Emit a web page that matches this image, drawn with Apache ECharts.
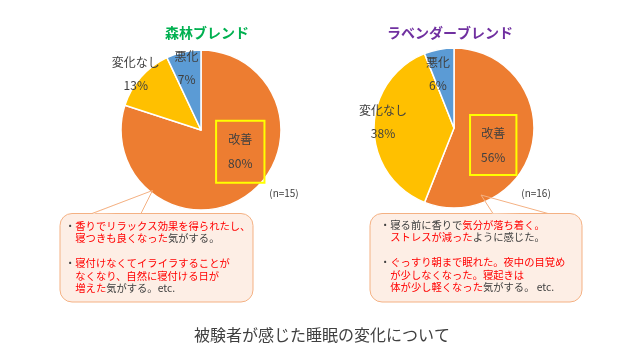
<!DOCTYPE html>
<html>
<head>
<meta charset="utf-8">
<script src="https://cdn.jsdelivr.net/npm/echarts@6/dist/echarts.min.js"></script>
<style>
  html, body { margin: 0; padding: 0; background: #fff; }
  #chart { width: 640px; height: 354px; }
</style>
</head>
<body>
<div id="chart"></div>
<script>
// データ
const categories = ['改善', '変化なし', '悪化']
const forestValues = [80, 13, 7]      // 森林ブレンド (n=15)
const lavenderValues = [56, 38, 6]    // ラベンダーブレンド (n=16)
const sliceColors = ['#ED7D31', '#FFC000', '#5B9BD5']

const titles = ['森林ブレンド', 'ラベンダーブレンド']
const sampleLabels = ['(n=15)', '(n=16)']
const caption = '被験者が感じた睡眠の変化について'

// コメント: [テキスト, 赤字かどうか]
const forestComments = [
  [['・', 0], ['香りでリラックス効果を得られたし、', 1]],
  [['　', 0], ['寝つきも良くなった', 1], ['気がする。', 0]],
  [],
  [['・', 0], ['寝付けなくてイライラすることが', 1]],
  [['　', 0], ['なくなり、自然に寝付ける日が', 1]],
  [['　', 0], ['増えた', 1], ['気がする。etc.', 0]]
]
const lavenderComments = [
  [['・', 0], ['寝る前に香りで', 0], ['気分が落ち着く。', 1]],
  [['　', 0], ['ストレスが減った', 1], ['ように感じた。', 0]],
  [],
  [['・', 0], ['ぐっすり朝まで眠れた。夜中の目覚め', 1]],
  [['　', 0], ['が少しなくなった。寝起きは', 1]],
  [['　', 0], ['体が少し軽くなった', 1], ['気がする。 etc.', 0]]
]

const FONT = '"Noto Sans CJK JP", "Noto Sans", sans-serif'
const GRAY = '#404040'
const RED = '#FF0000'

const chart = echarts.init(document.getElementById('chart'), null, { renderer: 'canvas' })

// ラベル位置の微調整
const labelOffsets = [
  [[14, -13], [-33, -28], [-5, -20]],
  [[-3, 9], [-28, -6], [-8, -12]]
]
const boxPadding = [[7, 12], [6, 11]]

function pieSeries(idx, values, center) {
  return {
    type: 'pie',
    center: center,
    radius: 80,
    startAngle: 90,
    clockwise: true,
    animation: false,
    silent: true,
    itemStyle: { borderColor: '#fff', borderWidth: 1.5 },
    label: {
      show: true,
      position: 'inside',
      formatter: '{b}\n{c}%',
      color: GRAY,
      fontSize: 12,
      lineHeight: 23,
      fontFamily: FONT
    },
    labelLine: { show: false },
    labelLayout: function (p) {
      const o = labelOffsets[idx][p.dataIndex]
      return { dx: o[0], dy: o[1] }
    },
    data: categories.map((name, i) => ({
      name: name,
      value: values[i],
      itemStyle: { color: sliceColors[i] },
      label: i === 0 ? {
        borderColor: '#FFFF00',
        borderWidth: 2,
        padding: boxPadding[idx],
        lineHeight: 24
      } : {}
    }))
  }
}

function callout(rect, pointer, lines, textX, textY) {
  const fill = '#FDEEE5'
  const stroke = '#F4B183'
  const els = [
    {
      type: 'rect', z: 10,
      shape: { x: rect[0], y: rect[1], width: rect[2], height: rect[3], r: 12 },
      style: { fill: fill, stroke: stroke, lineWidth: 1 }
    },
    {
      type: 'polygon', z: 11,
      shape: { points: [pointer[0], pointer[1], [pointer[2][0], pointer[2][1] + 1], [pointer[1][0], pointer[1][1] + 1]].map((p, i) => i === 0 ? p : p) },
      style: { fill: fill }
    },
    {
      type: 'polyline', z: 12,
      shape: { points: [pointer[1], pointer[0], pointer[2]] },
      style: { stroke: stroke, lineWidth: 1, fill: null }
    }
  ]
  lines.forEach((segs, i) => {
    if (!segs.length) return
    els.push({
      type: 'text', z: 13,
      x: textX, y: textY + i * 12.5,
      style: {
        text: segs.map(s => '{' + (s[1] ? 'r' : 'g') + '|' + s[0] + '}').join(''),
        verticalAlign: 'middle',
        font: '10.3px ' + FONT,
        rich: {
          r: { fill: RED, fontSize: 10.3, fontFamily: FONT },
          g: { fill: GRAY, fontSize: 10.3, fontFamily: FONT }
        }
      }
    })
  })
  return els
}

function plainText(text, x, y, size, color, bold) {
  return {
    type: 'text', z: 20, x: x, y: y,
    style: {
      text: text, fill: color,
      align: 'center', verticalAlign: 'middle',
      font: (bold ? 'bold ' : '') + size + 'px ' + FONT
    }
  }
}

chart.setOption({
  animation: false,
  series: [
    pieSeries(0, forestValues, [201, 130]),
    pieSeries(1, lavenderValues, [454, 128])
  ],
  graphic: [].concat(
    [
      plainText(titles[0], 207, 33, 14, '#00B050', true),
      plainText(titles[1], 450, 33, 14, '#7030A0', true),
      plainText(sampleLabels[0], 284, 193, 10, GRAY, false),
      plainText(sampleLabels[1], 536, 193, 10, GRAY, false),
      plainText(caption, 322, 335, 16, GRAY, false)
    ],
    callout([60, 213.5, 193, 88.5], [[152.5, 190.5], [92, 213.5], [141, 213.5]], forestComments, 65, 226),
    callout([370, 213.5, 212, 88.5], [[481, 195], [493, 213.5], [548, 213.5]], lavenderComments, 380, 225)
  )
})
</script>
</body>
</html>
